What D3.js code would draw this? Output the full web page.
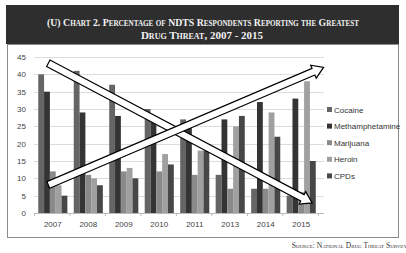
<!DOCTYPE html>
<html>
<head>
<meta charset="utf-8">
<script src="https://cdn.jsdelivr.net/npm/d3@7"></script>
<style>
body { margin: 0; background: #fff; }
</style>
</head>
<body>
<script>
// years on the x axis (2012 is not in the report)
var years = ["2007", "2008", "2009", "2010", "2011", "2013", "2014", "2015"];
var drugs = ["Cocaine", "Methamphetamine", "Marijuana", "Heroin", "CPDs"];
var cocaine = [40, 41, 37, 30, 27, 11, 7, 5];
var meth = [35, 29, 28, 27, 25, 27, 32, 33];
var marijuana = [12, 11, 12, 12, 11, 7, 7, 6];
var heroin = [8, 10, 13, 17, 18, 25, 29, 38];
var cpds = [5, 8, 10, 14, 18, 28, 22, 15];
var yTicks = [0, 5, 10, 15, 20, 25, 30, 35, 40, 45];
var colors = ["#656565", "#343434", "#8a8a8a", "#a0a0a0", "#474747"];

var width = 406, height = 253;
var margin = {top: 57, left: 34, right: 86, bottom: 40};
var plotW = 320 - margin.left;
var plotH = 213 - margin.top;

var svg = d3.select("body").append("svg")
	.attr("width", width)
	.attr("height", height);

// title band
svg.append("rect")
	.attr("x", 6).attr("y", 5)
	.attr("width", 393).attr("height", 39)
	.attr("fill", "#2e2e2e");

var title = svg.append("text")
	.attr("text-anchor", "middle")
	.attr("fill", "#f2f2f2")
	.style("font-family", "'Liberation Serif', serif")
	.style("font-weight", "bold")
	.style("font-size", "11px")
	.style("font-variant", "small-caps");
title.append("tspan").attr("x", 203).attr("y", 26)
	.attr("textLength", 312).attr("lengthAdjust", "spacingAndGlyphs")
	.text("(U) Chart 2.  Percentage of NDTS Respondents Reporting the Greatest");
title.append("tspan").attr("x", 202).attr("y", 39)
	.text("Drug Threat, 2007 - 2015");

// frame
svg.append("rect")
	.attr("x", 7.5).attr("y", 44.5)
	.attr("width", 391).attr("height", 193)
	.attr("fill", "none")
	.attr("stroke", "#8a8a8a")
	.attr("stroke-width", 1);

svg.append("text")
	.attr("x", 407).attr("y", 248)
	.attr("text-anchor", "end")
	.attr("fill", "#333")
	.style("font-family", "'Liberation Serif', serif")
	.style("font-size", "7.5px")
	.style("font-variant", "small-caps")
	.text("Source:  National Drug Threat Survey");

var g = svg.append("g")
	.attr("transform", "translate(" + margin.left + "," + margin.top + ")");

var x0 = d3.scaleBand().domain(years).range([0, plotW]).paddingInner(0.18).paddingOuter(0.12);
var x1 = d3.scaleBand().domain(drugs).range([0, x0.bandwidth()]);
var y = d3.scaleLinear().domain([0, 45]).range([plotH, 0]);

// grid
g.selectAll(".grid").data(yTicks.slice(1)).enter()
	.append("line")
	.attr("x1", 0).attr("x2", plotW + 4)
	.attr("y1", function(d) { return Math.round(y(d)) + 0.5; })
	.attr("y2", function(d) { return Math.round(y(d)) + 0.5; })
	.attr("stroke", "#dcdcdc");

var series = [cocaine, meth, marijuana, heroin, cpds];
var rows = years.map(function(yr, i) {
	return drugs.map(function(dr, j) { return {drug: dr, value: series[j][i], idx: j}; });
});

var groups = g.selectAll(".grp").data(rows).enter()
	.append("g")
	.attr("transform", function(d, i) { return "translate(" + x0(years[i]) + ",0)"; });

groups.selectAll("rect").data(function(d) { return d; }).enter()
	.append("rect")
	.attr("x", function(d) { return x1(d.drug); })
	.attr("y", function(d) { return y(d.value); })
	.attr("width", x1.bandwidth())
	.attr("height", function(d) { return plotH - y(d.value); })
	.attr("fill", function(d) { return colors[d.idx]; });

// axes
var xAxis = g.append("g")
	.attr("transform", "translate(0," + plotH + ")")
	.call(d3.axisBottom(x0).tickSize(0).tickPadding(8));
xAxis.select(".domain").attr("stroke", "#bbb").attr("d", "M0,0.5H" + (plotW + 4));
xAxis.selectAll("text").attr("fill", "#444")
	.style("font-family", "'Liberation Sans', sans-serif").style("font-size", "8px");
g.selectAll(".sep").data(years.concat(["end"])).enter()
	.append("line")
	.attr("x1", function(d, i) { return i * x0.step() + 0.5; })
	.attr("x2", function(d, i) { return i * x0.step() + 0.5; })
	.attr("y1", plotH).attr("y2", plotH + 3)
	.attr("stroke", "#bbb");

var yAxis = g.append("g")
	.call(d3.axisLeft(y).tickValues(yTicks).tickSize(0).tickPadding(8));
yAxis.select(".domain").remove();
yAxis.selectAll("text").attr("fill", "#444")
	.style("font-family", "'Liberation Sans', sans-serif").style("font-size", "8px");

// legend
var legend = svg.selectAll(".leg").data(drugs).enter()
	.append("g")
	.attr("transform", function(d, i) { return "translate(327," + (110 + i * 16.6) + ")"; });
legend.append("rect")
	.attr("x", 0).attr("y", -3)
	.attr("width", 5).attr("height", 5)
	.attr("fill", function(d, i) { return colors[i]; });
legend.append("text")
	.attr("x", 7).attr("y", 2.5)
	.attr("fill", "#333")
	.style("font-family", "'Liberation Sans', sans-serif")
	.style("font-size", "8px")
	.text(function(d) { return d; });

// trend arrows (x in band steps, y in percent)
var xs = d3.scaleLinear().domain([0, 8]).range([0, plotW]);
var arrows = [
	{x0: 0.4, y0: 43.2, x1: 7.78, y1: 2.9},
	{x0: 0.4, y0: 8.1, x1: 8.1, y1: 42}
];
function arrowPath(a) {
	var sx = xs(a.x0), sy = y(a.y0), ex = xs(a.x1), ey = y(a.y1);
	var dx = ex - sx, dy = ey - sy, len = Math.sqrt(dx * dx + dy * dy);
	var ux = dx / len, uy = dy / len, nx = -uy, ny = ux;
	var bw = 3.6, hw = 7, hl = 11;
	var bx = ex - ux * hl, by = ey - uy * hl;
	var pts = [
		[sx + nx * bw, sy + ny * bw],
		[bx + nx * bw, by + ny * bw],
		[bx + nx * hw, by + ny * hw],
		[ex, ey],
		[bx - nx * hw, by - ny * hw],
		[bx - nx * bw, by - ny * bw],
		[sx - nx * bw, sy - ny * bw]
	];
	return "M" + pts.map(function(p) { return p[0] + "," + p[1]; }).join("L") + "Z";
}
g.selectAll(".arrow").data(arrows).enter()
	.append("path")
	.attr("d", arrowPath)
	.attr("fill", "#fff")
	.attr("stroke", "#000")
	.attr("stroke-width", 1.2)
	.attr("stroke-linejoin", "miter");
</script>
</body>
</html>
